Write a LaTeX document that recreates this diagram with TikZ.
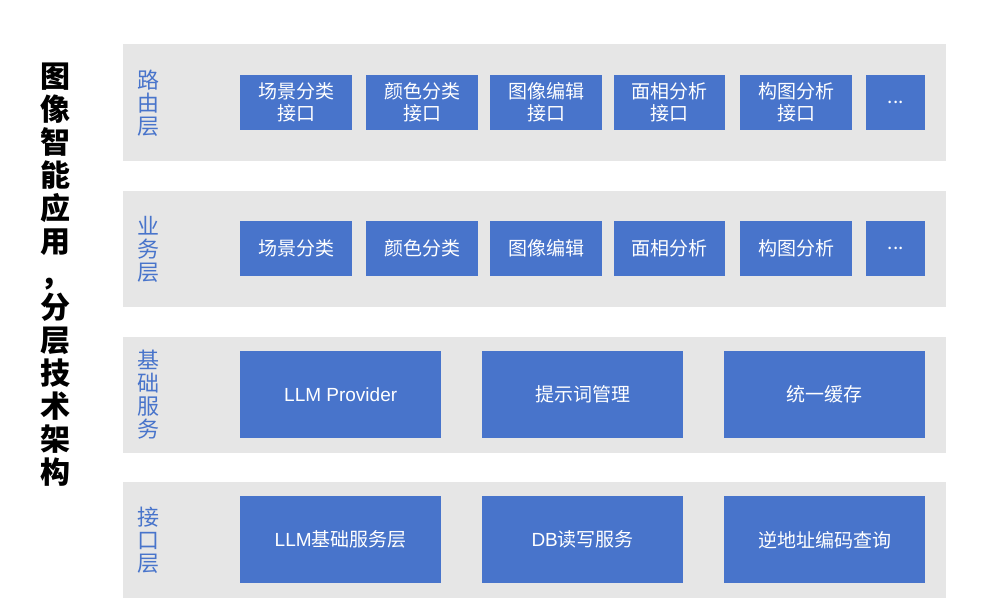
\documentclass[tikz,border=0pt]{standalone}
\usepackage{fontspec}
\setmainfont{Noto Sans CJK SC}
\newfontfamily\lat{Liberation Sans}
\definecolor{band}{HTML}{E6E6E6}
\definecolor{bx}{HTML}{4874CB}
\begin{document}
\begin{tikzpicture}[x=1pt,y=-1pt,
  bandbox/.style={fill=band,draw=none},
  bluebox/.style={fill=bx,draw=none,text=white,font=\fontsize{19}{22}\selectfont,align=center,inner sep=0pt},
  layerlbl/.style={text=bx,font=\fontsize{22}{23}\selectfont,align=center,inner sep=0pt}]
\useasboundingbox (0,0) rectangle (991,613);
\node[font=\bfseries\fontsize{30}{33}\selectfont,align=center,inner sep=0pt] (title) at (55,275)
 {图\\像\\智\\能\\应\\用\\，\\分\\层\\技\\术\\架\\构};
% bands
\foreach \n/\a/\b in {b1/44/161,b2/191/307,b3/337/453,b4/482/598}
  \fill[band] (123,\a) rectangle (946,\b);
\node[layerlbl] (l1) at (148,103) {路\\由\\层};
\node[layerlbl] (l2) at (148,249) {业\\务\\层};
\node[layerlbl] (l3) at (148,395) {基\\础\\服\\务};
\node[layerlbl] (l4) at (148,540) {接\\口\\层};
% row1 and row2
\foreach \i/\x/\w/\t in {1/240/112/场景分类,2/366/112/颜色分类,3/490/112/图像编辑,4/614/111/面相分析,5/740/112/构图分析}{
  \node[bluebox,minimum width=\w,minimum height=55,anchor=north west] (r1\i) at (\x,75) {\t\\接口};
  \node[bluebox,minimum width=\w,minimum height=55,anchor=north west] (r2\i) at (\x,221) {\t};
}
\node[bluebox,minimum width=59,minimum height=55,anchor=north west] (r16) at (866,75) {...};
\node[bluebox,minimum width=59,minimum height=55,anchor=north west] (r26) at (866,221) {...};
% row3 row4
\node[bluebox,minimum width=201,minimum height=87,anchor=north west] (r31) at (240,351) {\lat LLM Provider};
\node[bluebox,minimum width=201,minimum height=87,anchor=north west] (r32) at (482,351) {提示词管理};
\node[bluebox,minimum width=201,minimum height=87,anchor=north west] (r33) at (724,351) {统一缓存};
\node[bluebox,minimum width=201,minimum height=87,anchor=north west] (r41) at (240,496) {{\lat LLM}基础服务层};
\node[bluebox,minimum width=201,minimum height=87,anchor=north west] (r42) at (482,496) {{\lat DB}读写服务};
\node[bluebox,minimum width=201,minimum height=87,anchor=north west] (r43) at (724,496) {逆地址编码查询};
\end{tikzpicture}
\end{document}
